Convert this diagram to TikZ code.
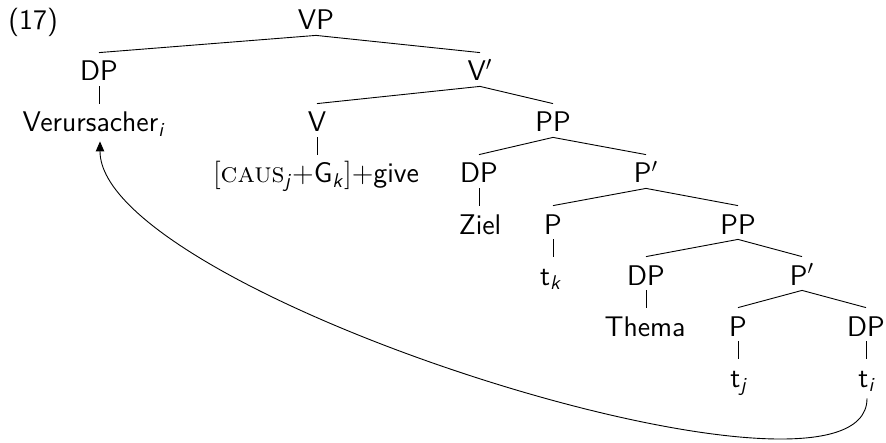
\documentclass[tikz,border=0pt]{standalone}
\usepackage{fontspec}
\usetikzlibrary{arrows.meta}
\begin{document}
\begin{tikzpicture}[x=0.5pt,y=-0.5pt,
  lbl/.style={inner sep=0pt, anchor=base, text height=14pt, text depth=2.5pt,
    font=\fontsize{14.2pt}{17pt}\selectfont\sffamily},
  edge/.style={line width=0.45pt},
  mvarrow/.style={line width=0.45pt, {Triangle[length=5pt,width=4.2pt]}-, shorten <=2pt, shorten >=3pt}]
\useasboundingbox (0,0) rectangle (886,443);
\node[lbl, anchor=base west] (ex) at (8,30) {(17)};
\node[lbl] (VP) at (316,30) {VP};
\node[lbl] (DPa) at (99,81) {DP};
\node[lbl] (Verur) at (94,132) {Verursacher\textsubscript{\textit{i}}};
\node[lbl] (Vbar) at (480,81) {V$'$};
\node[lbl] (V) at (317,132) {V};
\node[lbl] (caus) at (316,183) {{\rmfamily[\textsc{caus}}\textsubscript{\textit{j}}{\rmfamily +}G\textsubscript{\textit{k}}{\rmfamily ]+}give};
\node[lbl] (PPa) at (553,132) {PP};
\node[lbl] (DPb) at (479,183) {DP};
\node[lbl] (Ziel) at (480,234) {Ziel};
\node[lbl] (Pbara) at (646,183) {P$'$};
\node[lbl] (Pa) at (553,234) {P};
\node[lbl] (tk) at (551,285) {t\textsubscript{\textit{k}}};
\node[lbl] (PPb) at (738,234) {PP};
\node[lbl] (DPc) at (646,285) {DP};
\node[lbl] (Thema) at (645,336) {Thema};
\node[lbl] (Pbarb) at (802,285) {P$'$};
\node[lbl] (Pb) at (738,336) {P};
\node[lbl] (tj) at (739,387) {t\textsubscript{\textit{j}}};
\node[lbl] (DPd) at (866,336) {DP};
\node[lbl] (ti) at (867,387) {t\textsubscript{\textit{i}}};
% branching edges
\draw[edge] (VP.south) -- (DPa.north);
\draw[edge] (VP.south) -- (Vbar.north);
\draw[edge] (Vbar.south) -- (V.north);
\draw[edge] (Vbar.south) -- (PPa.north);
\draw[edge] (PPa.south) -- (DPb.north);
\draw[edge] (PPa.south) -- (Pbara.north);
\draw[edge] (Pbara.south) -- (Pa.north);
\draw[edge] (Pbara.south) -- (PPb.north);
\draw[edge] (PPb.south) -- (DPc.north);
\draw[edge] (PPb.south) -- (Pbarb.north);
\draw[edge] (Pbarb.south) -- (Pb.north);
\draw[edge] (Pbarb.south) -- (DPd.north);
% unary edges
\draw[edge] (DPa.south) -- (DPa.south |- Verur.north);
\draw[edge] (V.south) -- (V.south |- caus.north);
\draw[edge] (DPb.south) -- (DPb.south |- Ziel.north);
\draw[edge] (Pa.south) -- (Pa.south |- tk.north);
\draw[edge] (DPc.south) -- (DPc.south |- Thema.north);
\draw[edge] (Pb.south) -- (Pb.south |- tj.north);
\draw[edge] (DPd.south) -- (DPd.south |- ti.north);
% movement arrow
\draw[mvarrow] ([xshift=3pt]Verur.south) .. controls (100,295) and (867,535) .. (ti.south);
\end{tikzpicture}
\end{document}
